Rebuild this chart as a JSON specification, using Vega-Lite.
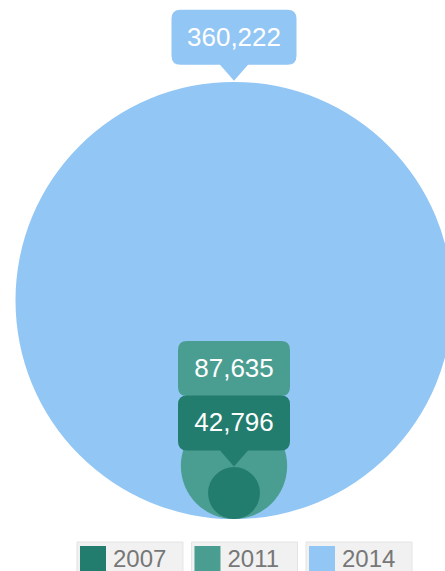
{
  "$schema": "https://vega.github.io/schema/vega-lite/v6.json",
  "padding": 0,
  "spacing": 0,
  "background": "white",
  "config": {"view": {"stroke": null}},
  "data": {"values": [
    {"year": "2014", "value": 360222},
    {"year": "2011", "value": 87635},
    {"year": "2007", "value": 42796}
  ]},
  "resolve": {"scale": {"x": "independent", "y": "independent"}},
  "vconcat": [
    {
      "width": 445,
      "height": 541,
      "resolve": {"scale": {"y": "independent"}},
      "layer": [
        {
          "mark": {"type": "point", "shape": "circle", "filled": true, "opacity": 1},
          "encoding": {
            "x": {"datum": 0, "type": "quantitative", "scale": {"domain": [-234, 211], "nice": false, "zero": false}, "axis": null},
            "y": {"field": "value", "type": "quantitative", "scale": {"domain": [0, 360222], "range": [519, 300.5], "nice": false}, "axis": null},
            "size": {"field": "value", "type": "quantitative", "scale": {"type": "pow", "exponent": 2, "domain": [0, 360222], "range": [0, 190969]}, "legend": null},
            "color": {"field": "year", "type": "nominal", "scale": {"domain": ["2007", "2011", "2014"], "range": ["#237d6e", "#4a9e91", "#92c6f5"]}, "legend": null}
          }
        },
        {
          "mark": {"type": "point", "filled": true, "opacity": 1, "size": 4},
          "encoding": {
            "x": {"datum": 0, "type": "quantitative", "scale": {"domain": [-234, 211], "nice": false, "zero": false}, "axis": null},
            "y": {"field": "value", "type": "quantitative", "scale": {"domain": [0, 360222], "range": [518.5, 80.7], "nice": false}, "axis": null},
            "shape": {"field": "year", "type": "nominal", "scale": {"domain": ["2007", "2011", "2014"], "range": [
              "M0,0 L-14,-16 L-47,-16 Q-56,-16 -56,-25 L-56,-62 Q-56,-71 -47,-71 L47,-71 Q56,-71 56,-62 L56,-25 Q56,-16 47,-16 L14,-16 Z",
              "M0,0 L-14,-16 L-47,-16 Q-56,-16 -56,-25 L-56,-62 Q-56,-71 -47,-71 L47,-71 Q56,-71 56,-62 L56,-25 Q56,-16 47,-16 L14,-16 Z",
              "M0,0 L-14,-16 L-53.5,-16 Q-62.5,-16 -62.5,-25 L-62.5,-62 Q-62.5,-71 -53.5,-71 L53.5,-71 Q62.5,-71 62.5,-62 L62.5,-25 Q62.5,-16 53.5,-16 L14,-16 Z"
            ]}, "legend": null},
            "color": {"field": "year", "type": "nominal", "legend": null}
          }
        },
        {
          "mark": {"type": "text", "baseline": "middle", "align": "center", "dy": -43, "fontSize": 26, "font": "Liberation Sans", "color": "white"},
          "encoding": {
            "x": {"datum": 0, "type": "quantitative", "scale": {"domain": [-234, 211], "nice": false, "zero": false}, "axis": null},
            "y": {"field": "value", "type": "quantitative", "scale": {"domain": [0, 360222], "range": [518.5, 80.7], "nice": false}, "axis": null},
            "text": {"field": "value", "type": "quantitative", "format": ","}
          }
        }
      ]
    },
    {
      "width": 445,
      "height": 30,
      "layer": [
        {
          "mark": {"type": "rect", "color": "#f1f1f1", "stroke": "#e4e4e4", "strokeWidth": 1},
          "encoding": {
            "x": {"field": "year", "type": "nominal", "scale": {"type": "band", "domain": ["2007", "2011", "2014"], "paddingInner": 0.074, "paddingOuter": 0.48, "align": 0.7}, "axis": null}
          }
        },
        {
          "mark": {"type": "point", "shape": "square", "filled": true, "opacity": 1, "size": 676, "xOffset": -37, "yOffset": 2},
          "encoding": {
            "x": {"field": "year", "type": "nominal", "axis": null},
            "color": {"field": "year", "type": "nominal", "legend": null}
          }
        },
        {
          "mark": {"type": "text", "align": "left", "baseline": "middle", "dx": -17, "dy": 3, "fontSize": 24, "font": "Liberation Sans", "color": "#777777"},
          "encoding": {
            "x": {"field": "year", "type": "nominal", "axis": null},
            "text": {"field": "year", "type": "nominal"}
          }
        }
      ]
    }
  ]
}
